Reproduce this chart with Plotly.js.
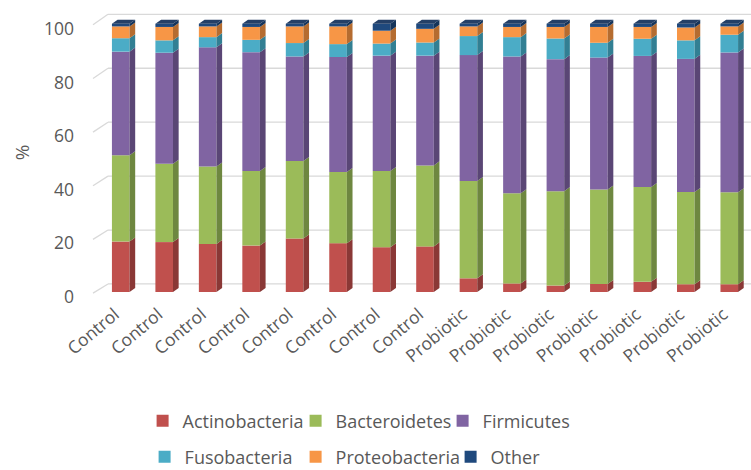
<!DOCTYPE html>
<html>
<head>
<meta charset="utf-8">
<script src="https://cdn.plot.ly/plotly-3.0.1.min.js"></script>
<style>
  html, body { margin: 0; padding: 0; background: #ffffff; }
  #chart { width: 751px; height: 470px; }
</style>
</head>
<body>
<div id="chart"></div>
<script>
// Sample groups, one per bar
const groups = [
  'Control', 'Control', 'Control', 'Control', 'Control', 'Control', 'Control', 'Control',
  'Probiotic', 'Probiotic', 'Probiotic', 'Probiotic', 'Probiotic', 'Probiotic', 'Probiotic'
];

// Relative abundance (%) of each phylum per sample
const actinobacteria = [18.8, 18.6, 17.9, 17.3, 19.9, 18.2, 16.7, 17.0, 5.1, 3.2, 2.4, 3.0, 3.8, 2.9, 2.9];
const bacteroidetes  = [32.2, 29.2, 28.9, 27.8, 28.9, 26.5, 28.4, 30.2, 36.3, 33.6, 35.2, 35.2, 35.3, 34.4, 34.3];
const firmicutes     = [38.6, 41.4, 44.4, 44.3, 39.0, 42.9, 43.0, 40.9, 46.9, 51.0, 49.2, 49.2, 48.9, 49.6, 52.1];
const fusobacteria   = [5.0, 4.6, 3.8, 4.6, 5.0, 4.8, 4.5, 4.9, 7.1, 7.2, 7.7, 5.5, 6.4, 6.9, 6.6];
const proteobacteria = [4.4, 5.0, 4.0, 4.8, 6.2, 6.6, 4.8, 5.1, 3.6, 3.8, 4.3, 5.9, 4.4, 4.8, 3.1];
const other          = [1.0, 1.2, 1.0, 1.2, 1.0, 1.0, 2.6, 1.9, 1.0, 1.2, 1.2, 1.2, 1.2, 1.4, 1.0];

const seriesNames = ['Actinobacteria', 'Bacteroidetes', 'Firmicutes', 'Fusobacteria', 'Proteobacteria', 'Other'];
const yTicks = [0, 20, 40, 60, 80, 100];

// Office-style palette: front face, side face, top face
const frontColors = ['#C0504D', '#9BBB59', '#8064A2', '#4BACC6', '#F79646', '#1F497D'];
const sideColors  = ['#8A3836', '#6E8740', '#5A4675', '#327F93', '#B56C30', '#15345A'];
const topColors   = ['#A8433F', '#87A24B', '#6E568E', '#3E98B0', '#D98236', '#243F66'];

const seriesValues = [actinobacteria, bacteroidetes, firmicutes, fusobacteria, proteobacteria, other];
const xIdx = groups.map((_, i) => i);

// Box geometry (in axis units)
const barW = 0.405;   // front face width
const depthX = 0.13;  // side face depth, x
const depthY = 1.5;   // side face rise, y
const yTop = 104;

const textGray = '#595959';
const font = '"Open Sans", Lato, sans-serif';

// Legend entry placement (container pixels): text start x, row centre y
const legendTextX = [183, 336, 483, 185, 336, 491];
const legendRowY  = [421, 421, 421, 457, 457, 457];
const W = 751, H = 470;

// running bases for the stack
const bases = [];
let running = groups.map(() => 0);
seriesValues.forEach(vals => {
  bases.push(running.slice());
  running = running.map((b, i) => b + vals[i]);
});

const traces = [];
const legendIds = seriesNames.map((_, s) => s === 0 ? 'legend' : 'legend' + (s + 1));

// Front faces, stacked through explicit bases
seriesValues.forEach((vals, s) => {
  traces.push({
    type: 'bar',
    x: xIdx,
    y: vals,
    base: bases[s],
    width: barW,
    name: seriesNames[s],
    legend: legendIds[s],
    marker: { color: frontColors[s], line: { width: 0 } },
    hovertemplate: '%{y:.1f}%<extra>' + seriesNames[s] + '</extra>'
  });
});

// Side faces for every segment
seriesValues.forEach((vals, s) => {
  const xs = [], ys = [];
  vals.forEach((v, i) => {
    const b = bases[s][i], t = b + v;
    const xr = i + barW / 2;
    xs.push(xr, xr + depthX, xr + depthX, xr, xr, null);
    ys.push(b, b + depthY, t + depthY, t, b, null);
  });
  traces.push({
    type: 'scatter', mode: 'lines', x: xs, y: ys,
    fill: 'toself', fillcolor: sideColors[s],
    line: { width: 0, color: sideColors[s] },
    hoverinfo: 'skip', showlegend: false
  });
});

// Top faces on the uppermost segment
{
  const s = seriesValues.length - 1;
  const xs = [], ys = [];
  seriesValues[s].forEach((v, i) => {
    const t = bases[s][i] + v;
    const xl = i - barW / 2, xr = i + barW / 2;
    xs.push(xl, xr, xr + depthX, xl + depthX, xl, null);
    ys.push(t, t, t + depthY, t + depthY, t, null);
  });
  traces.push({
    type: 'scatter', mode: 'lines', x: xs, y: ys,
    fill: 'toself', fillcolor: topColors[s],
    line: { width: 0, color: topColors[s] },
    hoverinfo: 'skip', showlegend: false
  });
}

// Back-wall gridlines with a short slanted run towards the tick labels
const gridLines = [];
yTicks.forEach(v => {
  const yFront = (v - 0.4) / yTop;
  const yBack = (v + 3 + 0.005 * v) / yTop;
  gridLines.push(
    { type: 'line', xref: 'paper', yref: 'paper', layer: 'below',
      x0: -0.0092, y0: yFront, x1: 0.0138, y1: yBack,
      line: { color: '#D9D9D9', width: 1.3 } },
    { type: 'line', xref: 'paper', yref: 'paper', layer: 'below',
      x0: 0.0138, y0: yBack, x1: 1, y1: yBack,
      line: { color: '#D9D9D9', width: 1.3 } }
  );
});

const layout = {
  width: W, height: H,
  margin: { l: 99, r: 0, t: 13, b: 178, autoexpand: false },
  paper_bgcolor: '#ffffff', plot_bgcolor: 'rgba(0,0,0,0)',
  barmode: 'overlay',
  showlegend: true,
  font: { family: font, color: textGray },
  xaxis: {
    range: [-0.5, 14.5],
    tickmode: 'array', tickvals: xIdx, ticktext: groups,
    tickangle: -40,
    tickfont: { family: font, size: 17.5, color: textGray },
    showgrid: false, zeroline: false, showline: false, ticks: '',
    ticklabelstandoff: 8,
    ticklabelshift: -6,
    automargin: false,
    fixedrange: true
  },
  yaxis: {
    range: [0, yTop],
    tickmode: 'array', tickvals: yTicks,
    tickfont: { family: font, size: 17.5, color: textGray },
    showgrid: false, zeroline: false, showline: false, ticks: '',
    ticklabelstandoff: 24,
    ticklabelshift: 5,
    title: { text: '%', font: { family: font, size: 19, color: textGray }, standoff: 9 },
    automargin: false,
    fixedrange: true
  },
  shapes: gridLines
};

// One legend per entry so each sits where it belongs in the two rows
legendIds.forEach((id, s) => {
  layout[id] = {
    xref: 'container', yref: 'container',
    x: (legendTextX[s] - 40.4) / W,
    y: 1 - legendRowY[s] / H,
    xanchor: 'left', yanchor: 'middle',
    orientation: 'h',
    font: { family: font, size: 18, color: textGray },
    bgcolor: 'rgba(0,0,0,0)',
    itemclick: false, itemdoubleclick: false
  };
});

Plotly.newPlot('chart', traces, layout, { displayModeBar: false, staticPlot: true });
</script>
</body>
</html>
